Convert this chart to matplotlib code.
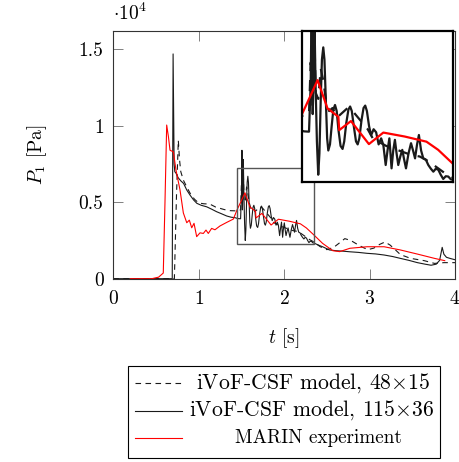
import numpy as np
import matplotlib
matplotlib.use('Agg')
import matplotlib.pyplot as plt
from matplotlib.patches import Rectangle
from matplotlib.lines import Line2D
from matplotlib.ticker import FuncFormatter

plt.rcParams['font.family'] = 'serif'
plt.rcParams['font.serif'] = ['cmr10']
plt.rcParams['mathtext.fontset'] = 'cm'
plt.rcParams['axes.unicode_minus'] = False
plt.rcParams['axes.formatter.use_mathtext'] = True

FS = 14

# iVoF-CSF model, 48x15 (pressure in 1e4 Pa)
t_coarse = np.array([0, 0.715, 0.74, 0.761, 0.775, 0.79, 0.82, 0.86, 0.90, 0.95, 1.0, 1.06,
                     1.13, 1.2, 1.25, 1.3, 1.366, 1.42, 1.46, 1.49, 1.50, 1.51, 1.52, 1.53,
                     1.545, 1.56, 1.575, 1.59, 1.61, 1.63, 1.66, 1.69, 1.72, 1.75, 1.78, 1.81,
                     1.84, 1.87, 1.9, 1.95, 2.0, 2.05, 2.1, 2.15, 2.2, 2.25, 2.3, 2.35, 2.42,
                     2.5, 2.58, 2.65, 2.71, 2.78, 2.84, 2.92, 2.98, 3.05, 3.12, 3.18, 3.24,
                     3.30, 3.36, 3.48, 3.64, 3.76, 3.87, 4.0])
p_coarse = np.array([0, 0, 0.55, 0.905, 0.78, 0.70, 0.645, 0.60, 0.558, 0.52, 0.495, 0.49,
                     0.488, 0.468, 0.46, 0.452, 0.445, 0.444, 0.444, 0.45, 0.62, 0.48, 0.75, 0.52,
                     0.50, 0.60, 0.56, 0.50, 0.46, 0.47, 0.44, 0.455, 0.47, 0.46, 0.44, 0.42,
                     0.40, 0.37, 0.36, 0.345, 0.335, 0.325, 0.315, 0.31, 0.295, 0.275, 0.255, 0.24, 0.21,
                     0.19, 0.205, 0.235, 0.262, 0.25, 0.23, 0.205, 0.19, 0.2, 0.225, 0.24, 0.22,
                     0.19, 0.158, 0.133, 0.118, 0.1, 0.105, 0.105]) * 1e4

# iVoF-CSF model, 115x36
t_fine = np.array([0, 0.69, 0.700, 0.712, 0.72, 0.734, 0.76, 0.79, 0.823, 0.86, 0.898, 0.94,
                   0.978, 1.03, 1.094, 1.15, 1.21, 1.27, 1.328, 1.38, 1.425, 1.46, 1.49, 1.50,
                   1.506, 1.512, 1.518, 1.522, 1.529, 1.537, 1.545, 1.552, 1.560, 1.567, 1.575,
                   1.582, 1.590, 1.598, 1.605, 1.615, 1.625, 1.635, 1.645, 1.655, 1.665, 1.678,
                   1.69, 1.70, 1.712, 1.725, 1.735, 1.745, 1.757, 1.77, 1.78, 1.79, 1.803, 1.815,
                   1.825, 1.835, 1.848, 1.86, 1.875, 1.89, 1.905, 1.92, 1.933, 1.947, 1.958,
                   1.969, 1.982, 1.992, 2.002, 2.012, 2.022, 2.034, 2.046, 2.057, 2.068, 2.083,
                   2.098, 2.11, 2.122, 2.134, 2.145, 2.158, 2.171, 2.186, 2.201, 2.216, 2.231,
                   2.246, 2.261, 2.275, 2.29, 2.305, 2.32, 2.335, 2.35, 2.40, 2.45, 2.53, 2.61,
                   2.69, 2.77, 2.87, 2.97, 3.07, 3.17, 3.27, 3.36, 3.46, 3.56, 3.65, 3.72, 3.78,
                   3.82, 3.85, 3.87, 3.90, 3.94, 4.0])
p_fine = np.array([0, 0, 1.47, 0.75, 0.70, 0.69, 0.66, 0.64, 0.623, 0.58, 0.547, 0.515,
                   0.493, 0.48, 0.47, 0.455, 0.438, 0.424, 0.41, 0.402, 0.399, 0.393, 0.392, 0.55,
                   0.84, 0.45, 0.60, 0.78, 0.55, 0.36, 0.25, 0.32, 0.50, 0.63, 0.67,
                   0.63, 0.50, 0.37, 0.33, 0.35, 0.41, 0.465, 0.48, 0.46, 0.40, 0.345,
                   0.335, 0.36, 0.42, 0.465, 0.475, 0.46, 0.41, 0.36, 0.35, 0.37, 0.43, 0.47,
                   0.478, 0.46, 0.41, 0.38, 0.40, 0.39, 0.35, 0.37, 0.348, 0.282, 0.33,
                   0.37, 0.271, 0.33, 0.365, 0.32, 0.282, 0.31, 0.332, 0.30, 0.271, 0.32,
                   0.354, 0.33, 0.304, 0.35, 0.381, 0.33, 0.304, 0.30, 0.282, 0.27, 0.26,
                   0.27, 0.266, 0.25, 0.236, 0.245, 0.244, 0.235, 0.233, 0.22, 0.209, 0.188, 0.183,
                   0.18, 0.176, 0.172, 0.166, 0.162, 0.155, 0.145, 0.133, 0.12, 0.105, 0.095, 0.088, 0.095,
                   0.12, 0.205, 0.16, 0.14, 0.133, 0.124]) * 1e4

# MARIN experiment
t_exp = np.array([0.2, 0.45, 0.53, 0.585, 0.605, 0.625, 0.645, 0.664, 0.703, 0.734, 0.781, 0.82,
                  0.86, 0.89, 0.918, 0.945, 0.976, 1.015, 1.054, 1.085, 1.112, 1.151, 1.19, 1.249,
                  1.327, 1.405, 1.45, 1.496, 1.541, 1.60, 1.665, 1.67, 1.74, 1.847, 1.933, 2.06,
                  2.19, 2.26, 2.35, 2.45, 2.57, 2.65, 2.77, 2.97, 3.17, 3.36, 3.56, 3.76, 3.88])
p_exp = np.array([0, 0, 0.01, 0.037, 0.5, 1.005, 0.93, 0.84, 0.83, 0.71, 0.58, 0.43,
                  0.366, 0.383, 0.333, 0.362, 0.275, 0.30, 0.296, 0.318, 0.296, 0.329, 0.32, 0.345,
                  0.368, 0.39, 0.452, 0.507, 0.562, 0.469, 0.441, 0.397, 0.427, 0.351, 0.389, 0.376,
                  0.359, 0.332, 0.285, 0.231, 0.183, 0.177, 0.199, 0.209, 0.209, 0.188, 0.161, 0.133,
                  0.118]) * 1e4

# zoom window
t_zoom = (1.45, 2.35)
p_zoom = (0.225e4, 0.725e4)

W, H = 459, 462
fig = plt.figure(figsize=(W / 100, H / 100), dpi=100)
ax = fig.add_axes([113.3 / W, (H - 278.7) / H, (455 - 113.3) / W, (278.7 - 31) / H])

def draw_curves(a, lw):
    a.plot(t_coarse, p_coarse, color='#1a1a1a', lw=lw, dashes=(5, 4))
    a.plot(t_fine, p_fine, color='#1a1a1a', lw=lw)
    a.plot(t_exp, p_exp, color='red', lw=lw)

draw_curves(ax, 0.8)
ax.set_xlim(0, 4)
ax.set_ylim(0, 1.62e4)
ax.set_xticks([0, 1, 2, 3, 4])
ax.set_yticks([0, 0.5e4, 1e4, 1.5e4])
ax.yaxis.set_major_formatter(FuncFormatter(lambda v, p: f'{v / 1e4:g}'))
ax.tick_params(direction='in', top=True, right=True, length=7, width=0.7,
               color='#808080', labelsize=FS)
ax.tick_params(axis='x', pad=8)
ax.tick_params(axis='y', pad=7)
for s in ax.spines.values():
    s.set_linewidth(0.8)
    s.set_color('#333333')
ax.text(0.0, 1.03, r'$\cdot 10^4$', transform=ax.transAxes, ha='left', va='bottom', fontsize=FS)

ax.add_patch(Rectangle((t_zoom[0], p_zoom[0]), t_zoom[1] - t_zoom[0], p_zoom[1] - p_zoom[0],
                       fill=False, edgecolor='#555555', lw=1.0, zorder=4))

fig.text(37 / W, 1 - 155 / H, r'$P_1$ [Pa]', rotation=90, ha='center', va='center', fontsize=FS)
fig.text(284 / W, 1 - 338 / H, r'$t$ [s]', ha='center', va='center', fontsize=FS)

# inset
axins = fig.add_axes([302.3 / W, (H - 182.3) / H, 151 / W, 151.6 / H], zorder=5)
axins.set_facecolor('white')
draw_curves(axins, 1.6)
axins.set_xlim(*t_zoom)
axins.set_ylim(*p_zoom)
axins.set_xticks([])
axins.set_yticks([])
for s in axins.spines.values():
    s.set_linewidth(1.6)
    s.set_color('black')

# legend drawn by hand so the labels are centred
fig.add_artist(Rectangle((128 / W, 4 / H), (440 - 128) / W, (458 - 366) / H,
                         transform=fig.transFigure, fill=False, edgecolor='black', lw=0.8))
labels = [r'iVoF-CSF model, 48$\times$15', r'iVoF-CSF model, 115$\times$36', 'MARIN experiment']
styles = [dict(color='#1a1a1a', dashes=(5, 4)), dict(color='#1a1a1a'), dict(color='red')]
label_x = [313, 312, 318]
label_fs = [15.6, 15.6, 13.8]
for row, (lab, st) in enumerate(zip(labels, styles)):
    y = 1 - (383 + 27.5 * row) / H
    fig.add_artist(Line2D([135 / W, 182 / W], [y, y], transform=fig.transFigure, lw=0.8, **st))
    fig.text(label_x[row] / W, y, lab, ha='center', va='center', fontsize=label_fs[row])

fig.savefig('out.png', dpi=100)
